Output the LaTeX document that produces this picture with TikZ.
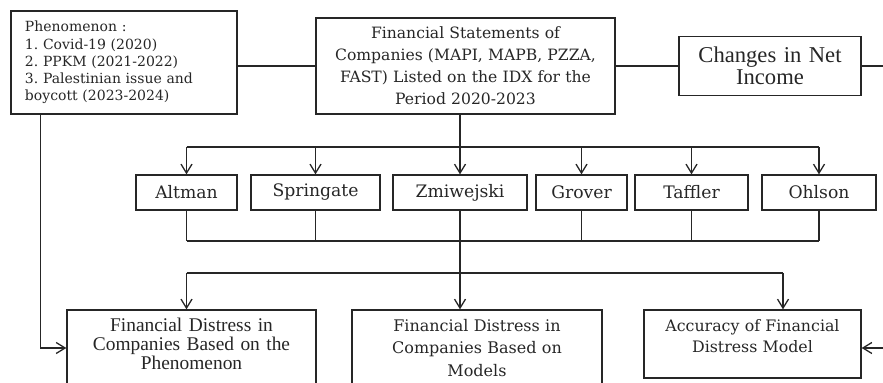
\documentclass[tikz,border=0pt]{standalone}
\usepackage{fontspec}
\setmainfont{Liberation Serif}
\newfontfamily\slabfont{DejaVu Serif}
\usepackage{tikz}
\usetikzlibrary{arrows.meta,positioning}
\frenchspacing

\begin{document}
\begin{tikzpicture}[
    x=0.5pt, y=-0.5pt,
    color=black!85,
    line width=0.65pt,
    box/.style={
        draw,
        align=center,
        inner sep=0pt
    },
    phenbox/.style={box, align=left, text width=99pt, minimum width=113pt, minimum height=51.5pt,
        font=\slabfont\fontsize{7}{8.6}\selectfont},
    srcbox/.style={box, text width=140pt, minimum width=149.5pt, minimum height=48pt,
        font=\slabfont\fontsize{7.8}{11}\selectfont},
    netbox/.style={box, text width=80pt, minimum width=91pt, minimum height=29.5pt,
        font=\fontsize{11.3}{11}\selectfont},
    model/.style={box, minimum height=17.5pt, font=\slabfont\fontsize{8.6}{9}\selectfont},
    result/.style={box, text width=110pt, minimum width=125pt, minimum height=38pt},
    lowpad/.style={execute at end node={\rule[-#1]{0pt}{#1}}},
    arrow/.style={-{Straight Barb[length=4.5pt,width=5.5pt]}}
]
\useasboundingbox (0,0) rectangle (883,383);
\clip (0,0) rectangle (883,383);

\node[phenbox] (phen) at (124,62.5) {Phenomenon :\\1. Covid-19 (2020)\\2. PPKM (2021-2022)\\3. Palestinian issue and\\boycott (2023-2024)};
\node[srcbox] (fs) at (465.5,66) {Financial Statements of\\Companies (MAPI, MAPB, PZZA,\\FAST) Listed on the IDX for the\\Period 2020-2023};
\node[netbox] (net) at (770,66) {Changes in Net\\Income};

\node[model, minimum width=50.5pt] (altman) at (186.5,192.5) {Altman};
\node[model, minimum width=64.5pt] (spring) at (315.5,192.5) {Springate};
\node[model, minimum width=67pt] (zmi) at (460,192.5) {Zmiwejski};
\node[model, minimum width=45.5pt] (grover) at (581.5,192.5) {Grover};
\node[model, minimum width=56.5pt] (taffler) at (691.5,192.5) {Taffler};
\node[model, minimum width=57pt] (ohlson) at (819,192.5) {Ohlson};

\node[result, minimum width=124.5pt, lowpad=4pt, font=\fontsize{9.7}{9.6}\selectfont] (fdphen) at (191.5,348) {Financial Distress in\\Companies Based on the\\Phenomenon};
\node[result, font=\slabfont\fontsize{8}{11.4}\selectfont] (fdmod) at (477,348) {Financial Distress in\\Companies Based on\\Models};
\node[result, text width=96pt, minimum width=108.5pt, minimum height=34pt, lowpad=8pt,
    font=\slabfont\fontsize{7.9}{10.7}\selectfont] (acc) at (752.5,344) {Accuracy of Financial\\Distress Model};

\coordinate (topbus) at (0,147);
\coordinate (midbus) at (0,241);
\coordinate (lowbus) at (0,273);
\coordinate (netout) at (883,66);
\coordinate (accin) at (883,348);
\coordinate (accarr) at ([xshift=15.25pt]acc.north);
\coordinate (phenout) at ([xshift=15pt]phen.south west);

\draw (phen.east |- fs.west) -- (fs.west);
\draw (fs.east) -- (net.west);
\draw (net.east) -- (netout);
\draw[arrow] (fs.south -| zmi) -- (zmi.north);
\draw (altman |- topbus) -- (ohlson |- topbus);
\foreach \m in {altman,spring,grover,taffler,ohlson}
    \draw[arrow] (\m |- topbus) -- (\m.north);
\foreach \m in {altman,spring,grover,taffler,ohlson}
    \draw (\m.south) -- (\m |- midbus);
\draw (altman |- midbus) -- (ohlson |- midbus);
\draw[arrow] (zmi.south) -- (zmi |- fdmod.north);
\draw (altman |- lowbus) -- (accarr |- lowbus);
\draw[arrow] (altman |- lowbus) -- (altman |- fdphen.north);
\draw[arrow] (accarr |- lowbus) -- (accarr);
\draw[arrow] (phenout) |- (fdphen.west);
\draw[arrow] (accin) -- (accin -| acc.east);
\end{tikzpicture}
\end{document}
